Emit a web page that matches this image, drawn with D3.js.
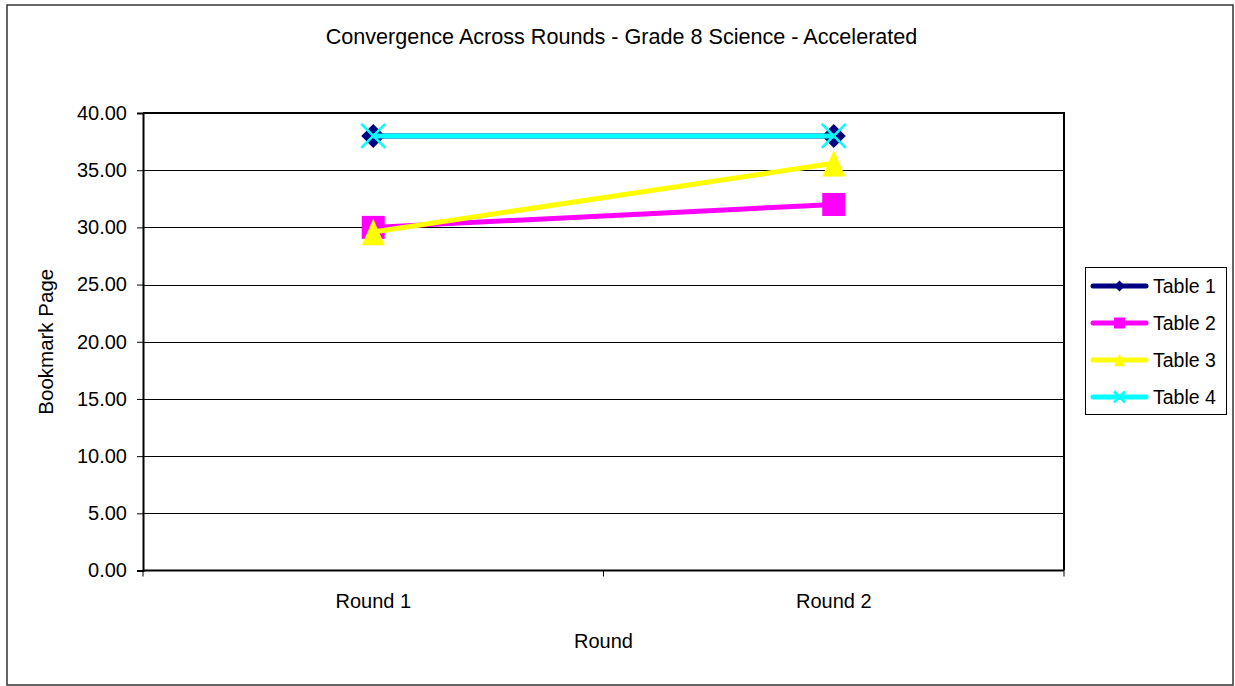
<!DOCTYPE html>
<html>
<head>
<meta charset="utf-8">
<script src="https://cdn.jsdelivr.net/npm/d3@7"></script>
<style>
  html, body { margin: 0; padding: 0; background: #fff; }
  svg text { font-family: "Liberation Sans", Arial, sans-serif; fill: #000; }
</style>
</head>
<body>
<svg id="chart" width="1235" height="686"></svg>
<script>
// Rounds along the x axis
const rounds = ["Round 1", "Round 2"];
// Bookmark page chosen by each table in each round
const table1 = [38, 38];
const table2 = [30, 32];
const table3 = [29.6, 35.6];
const table4 = [38, 38];
const seriesNames = ["Table 1", "Table 2", "Table 3", "Table 4"];
const yTicks = [0, 5, 10, 15, 20, 25, 30, 35, 40];

const series = [
  { name: seriesNames[0], values: table1, color: "#000080", marker: "diamond" },
  { name: seriesNames[1], values: table2, color: "#FF00FF", marker: "square" },
  { name: seriesNames[2], values: table3, color: "#FFFF00", marker: "triangle" },
  { name: seriesNames[3], values: table4, color: "#00FFFF", marker: "x" }
];

const FONT = "Liberation Sans, Arial, sans-serif";
const svg = d3.select("#chart");
const plot = { left: 143, right: 1064, top: 113, bottom: 570.5 };

// Outer chart frame
svg.append("rect").attr("x", 7).attr("y", 5).attr("width", 1226).attr("height", 680)
  .attr("fill", "#fff").attr("stroke", "#333").attr("stroke-width", 1.5);

const x = d3.scaleBand().domain(rounds).range([plot.left, plot.right]).paddingInner(0).paddingOuter(0);
const y = d3.scaleLinear().domain([0, 40]).range([plot.bottom, plot.top]);

// Plot area background
svg.append("rect").attr("x", plot.left).attr("y", plot.top)
  .attr("width", plot.right - plot.left).attr("height", plot.bottom - plot.top)
  .attr("fill", "#fff");

// Horizontal gridlines
svg.append("g").selectAll("line").data(yTicks.filter(t => t > 0 && t < 40)).join("line")
  .attr("x1", plot.left).attr("x2", plot.right)
  .attr("y1", d => Math.round(y(d)) + 0.5).attr("y2", d => Math.round(y(d)) + 0.5)
  .attr("stroke", "#000").attr("stroke-width", 1);

// Plot area border (top and right)
svg.append("path")
  .attr("d", `M${plot.left},${plot.top}H${plot.right}V${plot.bottom}`)
  .attr("fill", "none").attr("stroke", "#000").attr("stroke-width", 2);

// Y axis
const yAxis = d3.axisLeft(y).tickValues(yTicks).tickFormat(d3.format(".2f")).tickSize(6).tickPadding(10);
const gy = svg.append("g").attr("transform", `translate(${plot.left},0)`).call(yAxis);
gy.attr("font-size", null).attr("font-family", null);
gy.select(".domain").attr("stroke", "#000").attr("stroke-width", 2);
gy.selectAll(".tick line").attr("stroke", "#000");
gy.selectAll(".tick text").attr("font-size", 20).attr("font-family", FONT);

// X axis: ticks sit on category boundaries
const xAxis = d3.axisBottom(x).tickSize(0).tickPadding(23.5);
const gx = svg.append("g").attr("transform", `translate(0,${plot.bottom})`).call(xAxis);
gx.attr("font-size", null).attr("font-family", null);
gx.select(".domain").attr("stroke", "#000").attr("stroke-width", 2)
  .attr("d", `M${plot.left},0H${plot.right}`);
gx.selectAll(".tick text").attr("font-size", 20).attr("font-family", FONT);
const boundaries = [plot.left, ...rounds.map(r => x(r) + x.bandwidth())];
gx.append("g").selectAll("line").data(boundaries).join("line")
  .attr("x1", d => d).attr("x2", d => d).attr("y1", 0).attr("y2", 6)
  .attr("stroke", "#000").attr("stroke-width", 1);

// Titles
svg.append("text").attr("x", 621.5).attr("y", 44).attr("text-anchor", "middle")
  .attr("font-size", 21.6).text("Convergence Across Rounds - Grade 8 Science - Accelerated");
svg.append("text").attr("x", 603.5).attr("y", 648).attr("text-anchor", "middle")
  .attr("font-size", 20).text("Round");
svg.append("text").attr("transform", `translate(53,${(plot.top + plot.bottom) / 2}) rotate(-90)`)
  .attr("text-anchor", "middle").attr("font-size", 20.5).text("Bookmark Page");

// Marker shapes
function drawMarker(g, type, cx, cy, color, s) {
  if (type === "diamond") {
    g.append("path").attr("d", `M${cx},${cy - s}L${cx + s},${cy}L${cx},${cy + s}L${cx - s},${cy}Z`)
      .attr("fill", color);
  } else if (type === "square") {
    g.append("rect").attr("x", cx - s).attr("y", cy - s).attr("width", 2 * s).attr("height", 2 * s)
      .attr("fill", color);
  } else if (type === "triangle") {
    g.append("path").attr("d", `M${cx},${cy - s * 1.15}L${cx + s},${cy + s * 1.15}L${cx - s},${cy + s * 1.15}Z`)
      .attr("fill", color);
  } else if (type === "x") {
    g.append("path").attr("d", `M${cx - s},${cy - s}L${cx + s},${cy + s}M${cx + s},${cy - s}L${cx - s},${cy + s}`)
      .attr("stroke", color).attr("stroke-width", 2.5).attr("fill", "none");
  }
}

const cx = d => x(d) + x.bandwidth() / 2;
const line = d3.line().x(d => cx(d.r)).y(d => y(d.v));
const markerSize = { diamond: 12, square: 11.5, triangle: 11.5, x: 12 };

series.forEach(s => {
  const pts = rounds.map((r, i) => ({ r, v: s.values[i] }));
  const g = svg.append("g");
  g.append("path").datum(pts).attr("d", line)
    .attr("fill", "none").attr("stroke", s.color).attr("stroke-width", 5);
  pts.forEach(p => drawMarker(g, s.marker, cx(p.r), y(p.v), s.color, markerSize[s.marker]));
});

// Legend
const lg = svg.append("g");
lg.append("rect").attr("x", 1085.5).attr("y", 267.5).attr("width", 141).attr("height", 147)
  .attr("fill", "#fff").attr("stroke", "#000").attr("stroke-width", 1);
series.forEach((s, i) => {
  const ly = 286 + i * 37;
  lg.append("line").attr("x1", 1093).attr("x2", 1146).attr("y1", ly).attr("y2", ly)
    .attr("stroke", s.color).attr("stroke-width", 5).attr("stroke-linecap", "round");
  drawMarker(lg, s.marker, 1119.5, ly, s.color, 5.5);
  lg.append("text").attr("x", 1153).attr("y", ly + 7).attr("font-size", 19.5).text(s.name);
});
</script>
</body>
</html>
